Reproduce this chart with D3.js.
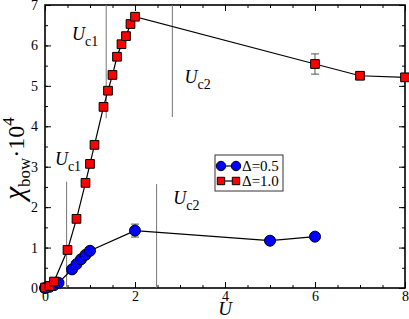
<!DOCTYPE html>
<html>
<head>
<meta charset="utf-8">
<script src="https://cdn.jsdelivr.net/npm/d3@7"></script>
<style>
	body { margin: 0; background: #fff; }
	text { font-family: "Liberation Serif", "Times New Roman", serif; fill: #000; }
</style>
</head>
<body>
<div id="chart"></div>
<script>
// Delta = 1.0 (red squares)
var uRed = [0, 0.1, 0.2, 0.5, 0.7, 0.9, 1.0, 1.1, 1.3, 1.4, 1.5, 1.6, 1.7, 1.8, 1.9, 2.0, 6, 7, 8];
var chiRed = [0.01, 0.05, 0.16, 0.94, 1.71, 2.6, 3.07, 3.54, 4.48, 4.88, 5.27, 5.72, 6.03, 6.23, 6.53, 6.71, 5.54, 5.25, 5.21];
var errRed = [0, 0, 0, 0, 0, 0, 0, 0, 0, 0, 0, 0, 0, 0, 0, 0, 0.25, 0.08, 0.1];

// Delta = 0.5 (blue circles)
var uBlue = [0, 0.1, 0.2, 0.3, 0.6, 0.7, 0.8, 0.9, 1.0, 2.0, 5.0, 6.0];
var chiBlue = [0, 0.03, 0.07, 0.13, 0.46, 0.59, 0.71, 0.82, 0.92, 1.42, 1.17, 1.27];
var errBlue = [0, 0, 0, 0, 0, 0, 0, 0, 0, 0.16, 0, 0];

// critical U markers: position, line range, label
var critU = [1.36, 2.83, 0.48, 2.48];
var critFrom = [4.2, 4.23, 0, 0];
var critTo = [7, 7, 2.63, 2.57];
var critName = ["c1", "c2", "c1", "c2"];
var critLabelU = [0.6, 3.1, 0.22, 2.85];
var critLabelChi = [6.13, 5.07, 3.05, 2.08];

var xTicks = [0, 2, 4, 6, 8];
var yTicks = [0, 1, 2, 3, 4, 5, 6, 7];
var legendNames = ["\u0394=0.5", "\u0394=1.0"];

var margins = {top: 5, bottom: 31, left: 45, right: 4};
var width = 409 - margins.left - margins.right,
	height = 319 - margins.top - margins.bottom;

var serif = "'Liberation Serif', 'Times New Roman', serif";

var svg = d3.select("#chart").append("svg")
	.attr("width", 409)
	.attr("height", 319);

var g = svg.append("g")
	.attr("transform", "translate(" + margins.left + "," + margins.top + ")");

var x = d3.scaleLinear().domain([0, 8]).range([0, width]);
var y = d3.scaleLinear().domain([0, 7]).range([height, 0]);

var minorX = d3.range(0, 8.01, 0.5),
	minorY = d3.range(0, 7.01, 0.5);

function styleAxis(sel) {
	sel.attr("font-family", serif).attr("font-size", 14);
	sel.select(".domain").remove();
	sel.selectAll("line").attr("stroke", "#000").attr("stroke-width", 1);
	sel.selectAll("text").style("font-family", serif).style("font-size", "14px");
}

// minor ticks, all four sides, pointing inwards
g.append("g").attr("transform", "translate(0," + height + ")")
	.call(d3.axisBottom(x).tickValues(minorX).tickSize(-3).tickFormat("")).call(styleAxis);
g.append("g")
	.call(d3.axisTop(x).tickValues(minorX).tickSize(-3).tickFormat("")).call(styleAxis);
g.append("g")
	.call(d3.axisLeft(y).tickValues(minorY).tickSize(-3).tickFormat("")).call(styleAxis);
g.append("g").attr("transform", "translate(" + width + ",0)")
	.call(d3.axisRight(y).tickValues(minorY).tickSize(-3).tickFormat("")).call(styleAxis);

// major ticks
g.append("g").attr("transform", "translate(0," + height + ")")
	.call(d3.axisBottom(x).tickValues(xTicks).tickSize(-6).tickPadding(3).tickFormat(d3.format("d"))).call(styleAxis);
g.append("g")
	.call(d3.axisTop(x).tickValues(xTicks).tickSize(-6).tickFormat("")).call(styleAxis);
g.append("g")
	.call(d3.axisLeft(y).tickValues(yTicks).tickSize(-6).tickPadding(7).tickFormat(d3.format("d"))).call(styleAxis);
g.append("g").attr("transform", "translate(" + width + ",0)")
	.call(d3.axisRight(y).tickValues(yTicks).tickSize(-6).tickFormat("")).call(styleAxis);

// frame
g.append("rect")
	.attr("width", width)
	.attr("height", height)
	.attr("fill", "none")
	.attr("stroke", "#000")
	.attr("stroke-width", 1.6);

// critical lines and labels
critU.forEach(function(u, i) {
	g.append("line")
		.attr("x1", x(u)).attr("x2", x(u))
		.attr("y1", y(critFrom[i])).attr("y2", y(critTo[i]))
		.attr("stroke", "#777")
		.attr("stroke-width", 1);
	var t = g.append("text")
		.attr("x", x(critLabelU[i]))
		.attr("y", y(critLabelChi[i]))
		.style("font-size", "18px");
	t.append("tspan").style("font-style", "italic").text("U");
	t.append("tspan").attr("dy", 6).style("font-size", "14px").text(critName[i]);
});

var line = d3.line()
	.x(function(d) { return x(d[0]); })
	.y(function(d) { return y(d[1]); });

function drawSeries(us, vals, errs, color, shape) {
	var data = us.map(function(u, i) { return [u, vals[i], errs[i]]; });
	g.append("path")
		.datum(data)
		.attr("d", line)
		.attr("fill", "none")
		.attr("stroke", "#000")
		.attr("stroke-width", 1.2);

	var bars = g.append("g").selectAll("g")
		.data(data.filter(function(d) { return d[2] > 0; }))
		.enter().append("g")
		.attr("stroke", "#555")
		.attr("stroke-width", 1);
	bars.append("line")
		.attr("x1", function(d) { return x(d[0]); })
		.attr("x2", function(d) { return x(d[0]); })
		.attr("y1", function(d) { return y(d[1] - d[2]); })
		.attr("y2", function(d) { return y(d[1] + d[2]); });
	[-1, 1].forEach(function(s) {
		bars.append("line")
			.attr("x1", function(d) { return x(d[0]) - 4; })
			.attr("x2", function(d) { return x(d[0]) + 4; })
			.attr("y1", function(d) { return y(d[1] + s * d[2]); })
			.attr("y2", function(d) { return y(d[1] + s * d[2]); });
	});

	var sym = d3.symbol().type(shape).size(shape === d3.symbolSquare ? 76 : 95);
	g.append("g").selectAll("path")
		.data(data)
		.enter().append("path")
		.attr("d", sym)
		.attr("transform", function(d) { return "translate(" + x(d[0]) + "," + y(d[1]) + ")"; })
		.attr("fill", color)
		.attr("stroke", "#000")
		.attr("stroke-width", 1);
}

drawSeries(uBlue, chiBlue, errBlue, "#0000ff", d3.symbolCircle);
drawSeries(uRed, chiRed, errRed, "#ff0000", d3.symbolSquare);

// legend
var legend = svg.append("g").attr("transform", "translate(215,155)");
legend.append("rect")
	.attr("width", 68)
	.attr("height", 36)
	.attr("fill", "#fff")
	.attr("stroke", "#333")
	.attr("stroke-width", 1);
var legendColors = ["#0000ff", "#ff0000"];
var legendShapes = [d3.symbolCircle, d3.symbolSquare];
legendNames.forEach(function(name, i) {
	var ly = 11 + i * 15;
	legend.append("line")
		.attr("x1", 6).attr("x2", 21)
		.attr("y1", ly).attr("y2", ly)
		.attr("stroke", "#000").attr("stroke-width", 1.2);
	[6, 21].forEach(function(lx) {
		legend.append("path")
			.attr("d", d3.symbol().type(legendShapes[i]).size(i === 0 ? 70 : 55))
			.attr("transform", "translate(" + lx + "," + ly + ")")
			.attr("fill", legendColors[i])
			.attr("stroke", "#000")
			.attr("stroke-width", 1);
	});
	legend.append("text")
		.attr("x", 27)
		.attr("y", ly + 5)
		.style("font-size", "15px")
		.text(name);
});

// axis titles
svg.append("text")
	.attr("x", margins.left + x(4))
	.attr("y", 315)
	.attr("text-anchor", "middle")
	.style("font-size", "19px")
	.style("font-style", "italic")
	.text("U");

var ylab = svg.append("text")
	.attr("transform", "translate(24," + (margins.top + y(3.2)) + ") rotate(-90)")
	.attr("text-anchor", "middle")
	.style("font-size", "24px");
ylab.append("tspan").style("font-size", "30px").style("font-style", "italic").text("\u03c7");
ylab.append("tspan").attr("dy", 6).style("font-size", "17px").text("bow");
ylab.append("tspan").attr("dy", -6).text("\u00b710");
ylab.append("tspan").attr("dy", -10).style("font-size", "17px").text("4");
</script>
</body>
</html>
